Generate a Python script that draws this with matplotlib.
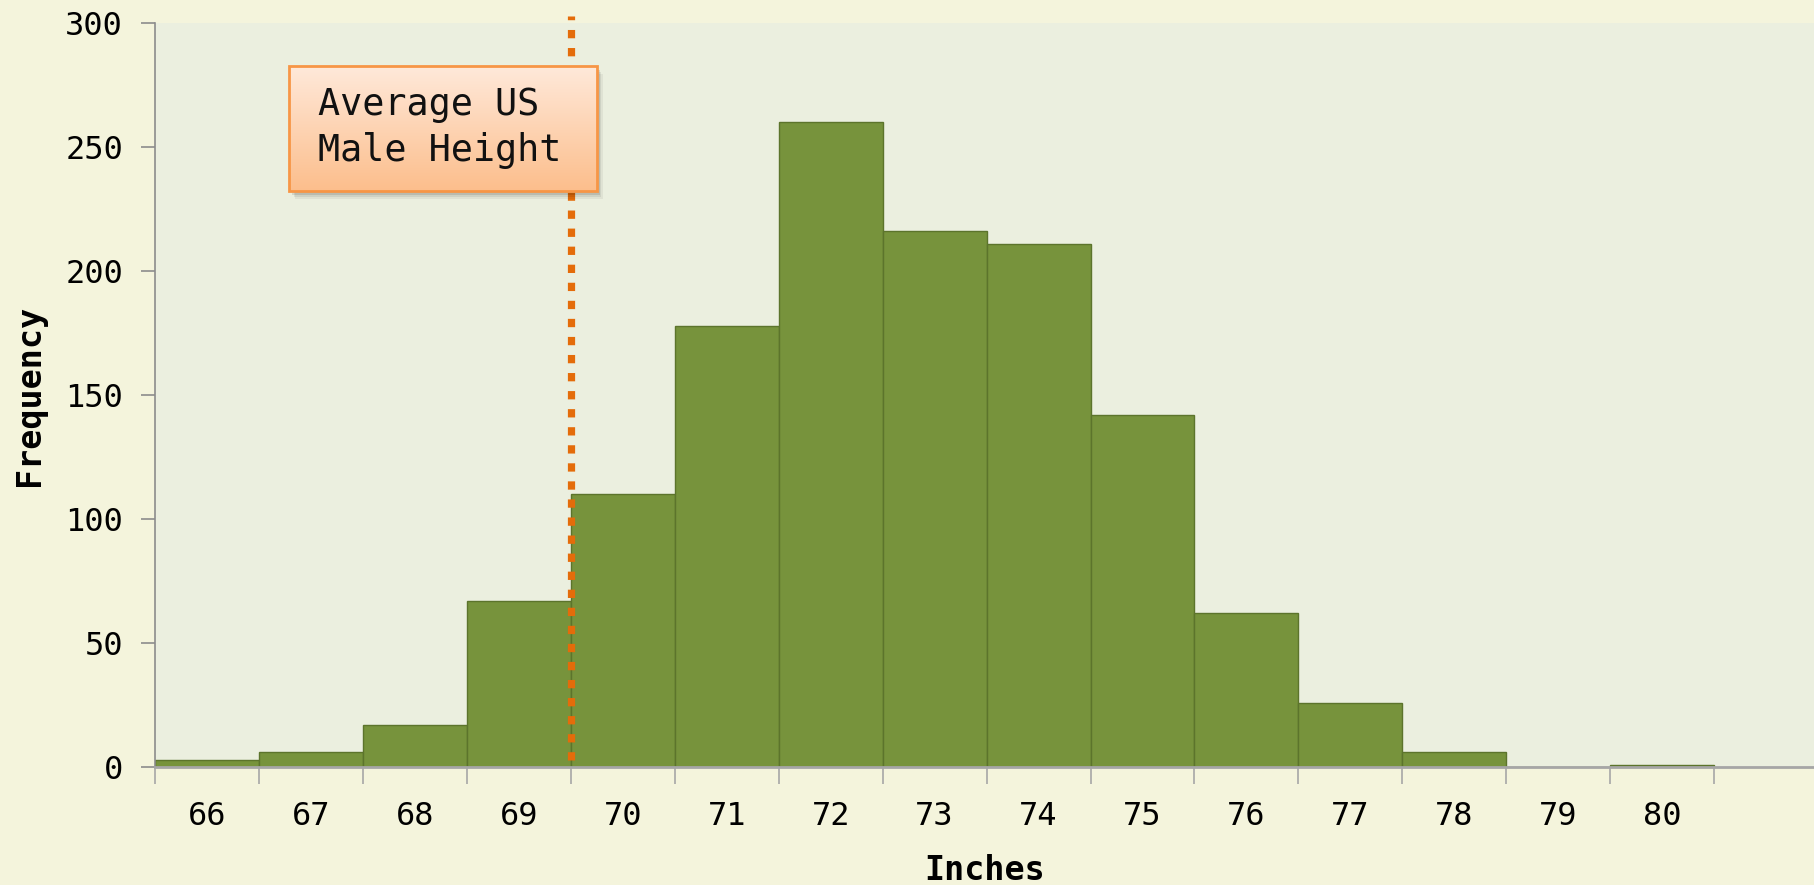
import numpy as np
import matplotlib
matplotlib.use("Agg")
import matplotlib.pyplot as plt
from matplotlib.patches import Rectangle
from matplotlib.colors import LinearSegmentedColormap

# Height histogram (counts per whole-inch bin)
inches = [66, 67, 68, 69, 70, 71, 72, 73, 74, 75, 76, 77, 78, 79, 80]
frequency = [3, 6, 17, 67, 110, 178, 260, 216, 211, 142, 62, 26, 6, 0, 1]
y_ticks = [0, 50, 100, 150, 200, 250, 300]
avg_height = 69.5
note_text = "Average US\nMale Height"

FIG_BG = "#F4F4DC"
AX_BG = "#EBEFDF"
BAR = "#77933C"
BAR_EDGE = "#5C742C"
SPINE = "#8C8C8C"
ORANGE = "#E46C0A"
MONO = "DejaVu Sans Mono"

fig = plt.figure(figsize=(18.15, 8.85), dpi=100, facecolor=FIG_BG)
ax = fig.add_axes([0.0854, 0.133, 0.9146, 0.841])
ax.set_facecolor(AX_BG)

ax.bar(inches, frequency, width=1.0, color=BAR, edgecolor=BAR_EDGE,
       linewidth=1.0, zorder=2)

ax.set_xlim(65.5, 81.47)
ax.set_ylim(0, 300)

# average-height marker
ax.axvline(avg_height, ymin=0.01, ymax=1.01, color=ORANGE, lw=5.2,
           linestyle=(0, (1.15, 1.35)), dash_capstyle="butt", zorder=3,
           clip_on=False)

# callout box with vertical gradient and soft shadow
bx0, bx1, by0, by1 = 66.79, 69.75, 232.3, 282.6
for i, a in enumerate([0.10, 0.07, 0.05]):
    off = 0.03 + i * 0.015
    ax.add_patch(Rectangle((bx0 + off, by0 - 1.5 - i * 0.8), bx1 - bx0,
                           by1 - by0, facecolor="#000000", alpha=a,
                           edgecolor="none", zorder=4))
grad = np.linspace(0, 1, 256).reshape(-1, 1)
cmap = LinearSegmentedColormap.from_list("peach", ["#FFE9DA", "#FCBE8C"])
ax.imshow(grad, extent=[bx0, bx1, by0, by1], aspect="auto", cmap=cmap,
          origin="upper", zorder=5, interpolation="bilinear")
ax.add_patch(Rectangle((bx0, by0), bx1 - bx0, by1 - by0, facecolor="none",
                       edgecolor="#F79646", linewidth=2.0, zorder=6))
ax.text(67.07, (by0 + by1) / 2 + 0.3, note_text, ha="left", va="center",
        fontsize=26.5, family=MONO, color="#111111", linespacing=1.32,
        zorder=7)

# axes styling
for s in ["top", "right"]:
    ax.spines[s].set_visible(False)
ax.spines["left"].set_color(SPINE)
ax.spines["bottom"].set_color("#A6A6A6")
ax.spines["bottom"].set_linewidth(2.0)
ax.spines["left"].set_linewidth(1.2)

ax.set_yticks(y_ticks)
ax.set_yticklabels([str(v) for v in y_ticks], family=MONO, fontsize=23)
ax.tick_params(axis="y", length=10, color=SPINE, width=1.2, pad=13)

edges = np.arange(inches[0] - 0.5, inches[-1] + 1.0, 1.0)
ax.set_xticks(edges)
ax.set_xticklabels([])
ax.tick_params(axis="x", which="major", length=12, color="#A6A6A6", width=1.2)
ax.set_xticks(inches, minor=True)
ax.set_xticklabels([str(v) for v in inches], minor=True, family=MONO,
                   fontsize=23)
ax.tick_params(axis="x", which="minor", length=0, pad=24)

ax.set_xlabel("Inches", family=MONO, fontsize=24, fontweight="bold",
              labelpad=16)
ax.set_ylabel("Frequency", family=MONO, fontsize=24, fontweight="bold",
              labelpad=14)

fig.savefig("out.png", dpi=100, facecolor=FIG_BG)
